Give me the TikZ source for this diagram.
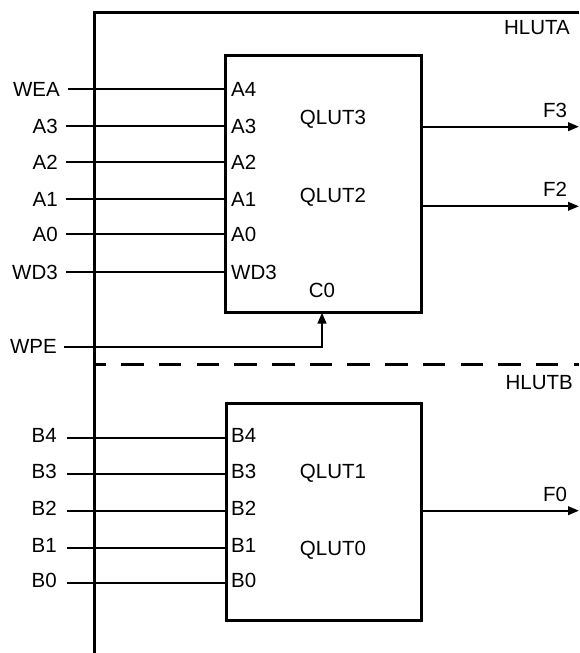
\documentclass[tikz,border=0pt]{standalone}
\usepackage{fontspec}
\setmainfont{Liberation Sans}
\usetikzlibrary{arrows.meta}
\begin{document}
\begin{tikzpicture}[x=1pt,y=-1pt,
  frame/.style={line width=3.3pt},
  wire/.style={line width=2.3pt},
  lbl/.style={inner sep=0pt, font=\fontsize{20.5}{24}\selectfont},
  blk/.style={draw, line width=3.1pt, inner sep=0pt, anchor=north west},
  arr/.style={-{Triangle[length=11pt,width=8.5pt]}},
  sep/.style={line width=3pt, dash pattern=on 22.5pt off 15.2pt, dash phase=12.5pt}]
\useasboundingbox (0,0) rectangle (579,653);
% frame of HLUTA / HLUTB
\coordinate (ftr) at (579,12.7);
\coordinate (ftl) at (94.5,12.7);
\coordinate (fbl) at (94.5,653);
\draw[frame] (ftr) -- (ftl) -- (fbl);
\node[lbl, anchor=east] (hluta) at (570,28) {HLUTA};
% separator
\coordinate (sl) at (96,364.3);
\coordinate (sr) at (579,364.3);
\draw[sep] (sl) -- (sr);
\node[lbl, anchor=east] (hlutb) at (573,383) {HLUTB};
% block A
\node[blk, minimum width=196pt, minimum height=256.7pt] (boxA) at (223.5,54.3) {};
\node[lbl] (qlut3) at (333,119) {QLUT3};
\node[lbl] (qlut2) at (333,197) {QLUT2};
\node[lbl] (c0) at (322,290) {C0};
\foreach \n/\t/\i/\y/\x in {wea/WEA/A4/89/60, ina3/A3/A3/126/58, ina2/A2/A2/162.3/58, ina1/A1/A1/199/58, ina0/A0/A0/234/58, wd3/WD3/WD3/272/58} {
  \node[lbl, anchor=east] (\n) at (\x,\y) {\t};
  \node[lbl, anchor=west] (\n p) at (231,\y) {\i};
  \draw[wire] ([xshift=8pt]\n.east) -- (\n.east -| boxA.west);
}
% WPE to C0
\node[lbl, anchor=east] (wpe) at (57,346.7) {WPE};
\coordinate (c0in) at (322,312.5);
\draw[wire, arr] ([xshift=7pt]wpe.east) -| (c0in);
% outputs of A
\coordinate (f3end) at (579,126.7);
\coordinate (f2end) at (579,206.3);
\draw[wire, arr] (boxA.east |- f3end) -- (f3end);
\draw[wire, arr] (boxA.east |- f2end) -- (f2end);
\node[lbl] (f3) at (555,110) {F3};
\node[lbl] (f2) at (555,189) {F2};
% block B
\node[blk, minimum width=195pt, minimum height=216.5pt] (boxB) at (225,402) {};
\node[lbl] (qlut1) at (333,473) {QLUT1};
\node[lbl] (qlut0) at (333,550) {QLUT0};
\foreach \n/\t/\y in {inb4/B4/437.7, inb3/B3/474, inb2/B2/510.7, inb1/B1/547.7, inb0/B0/582.7} {
  \node[lbl, anchor=east] (\n) at (57,\y-2.5) {\t};
  \node[lbl, anchor=west] (\n p) at (231,\y-2.5) {\t};
  \draw[wire] ([xshift=10pt]\n.east |- 0,\y) -- (boxB.west |- 0,\y);
}
\coordinate (f0end) at (579,510.7);
\draw[wire, arr] (boxB.east |- f0end) -- (f0end);
\node[lbl] (f0) at (555,494) {F0};
\end{tikzpicture}
\end{document}
